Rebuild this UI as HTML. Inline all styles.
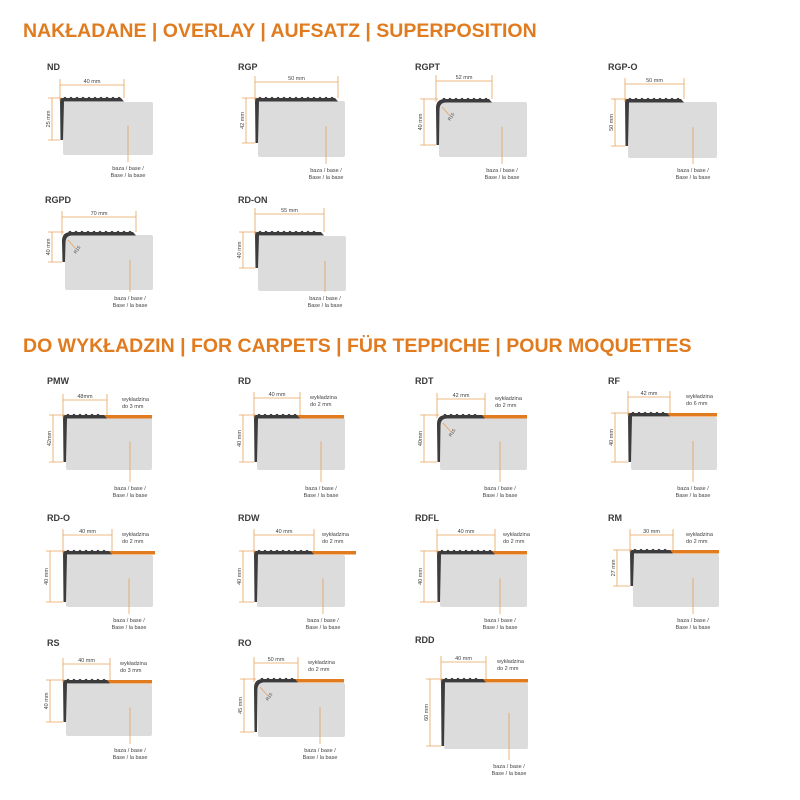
<!DOCTYPE html>
<html><head><meta charset="utf-8"><style>
html,body{margin:0;padding:0;background:#fff;}
svg{display:block;}
text{font-family:"Liberation Sans",sans-serif;}
</style></head><body>
<svg id="s" width="800" height="800" viewBox="0 0 800 800" xmlns="http://www.w3.org/2000/svg">
<rect width="800" height="800" fill="#fff"/>
<text x="23" y="37" font-size="19.5" font-weight="bold" fill="#e07b1f">NAKŁADANE | OVERLAY | AUFSATZ | SUPERPOSITION</text>
<text x="23" y="352" font-size="19.5" font-weight="bold" fill="#e07b1f">DO WYKŁADZIN | FOR CARPETS | FÜR TEPPICHE | POUR MOQUETTES</text>
</svg>
<script>
var D=[
// lab,lx,ly,px,top,end,leg,bx1,by1,bx2,by2,dimY,vx,ptr,ty,dim,vt,round,carpetEnd,ctx,ctext
["ND",47,70,60,98,124,140,63,102,153,155,85,52,128,170,"40 mm","25 mm",0],
["RGP",238,70,255,98,338,143,258,101,345,157,82,246,326,172,"50 mm","42 mm",0],
["RGPT",415,70,436,99,492,145,439,102,527,157,81,424,502,172,"52 mm","40 mm",1],
["RGP-O",608,70,625,99,684,146,628,102,717,158,84,615,693,172,"50 mm","50 mm",0],
["RGPD",45,203,62,232,136,262,65,235,153,290,217,52,130,300,"70 mm","40 mm",1],
["RD-ON",238,203,255,232,324,268,258,236,346,291,214,243,325,300,"55 mm","40 mm",0],
["PMW",47,384,63,415,107,462,66,418,152,470,400,53,130,490,"48mm","42mm",0,152,122,"do 3 mm"],
["RD",238,384,254,415,300,462,257,418,345,470,398,243,321,490,"40 mm","40 mm",0,344,310,"do 2 mm"],
["RDT",415,384,437,415,485,462,440,418,527,470,399,424,500,490,"42 mm","40mm",1,527,495,"do 2 mm"],
["RF",608,384,628,413,670,462,631,417,717,470,397,615,693,490,"42 mm","40 mm",0,717,686,"do 6 mm"],
["RD-O",47,521,63,551,112,602,66,555,153,607,535,50,129,622,"40 mm","40 mm",0,155,122,"do 2 mm"],
["RDW",238,521,254,551,314,602,257,555,345,607,535,243,323,622,"40 mm","40 mm",0,356,322,"do 2 mm"],
["RDFL",415,521,437,551,495,602,440,555,527,607,535,424,500,622,"40 mm","40 mm",0,527,503,"do 2 mm"],
["RM",608,521,630,550,673,586,633,554,719,607,535,617,693,622,"30 mm","27 mm",0,719,686,"do 2 mm"],
["RS",47,646,63,680,110,722,66,684,152,736,664,50,130,752,"40 mm","40 mm",0,152,120,"do 3 mm"],
["RO",238,646,254,679,298,732,258,683,345,737,663,244,320,752,"50 mm","45 mm",1,344,308,"do 2 mm"],
["RDD",415,643,441,679,486,746,444,683,528,749,662,430,509,768,"40 mm","60 mm",0,528,497,"do 2 mm"]
];
var o="",C="#e8a25a",P="#3c3c3e";
D.forEach(function(d){
var [lab,lx,ly,px,top,end,leg,bx1,by1,bx2,by2,dimY,vx,ptr,ty,dim,vt,rd,ce,ctx,ctext]=d;
o+='<text x="'+lx+'" y="'+ly+'" font-size="9" font-weight="bold" fill="#3a3a3a">'+lab+'</text>';
o+='<rect x="'+bx1+'" y="'+by1+'" width="'+(bx2-bx1)+'" height="'+(by2-by1)+'" rx="2" fill="#dcdcdc"/>';
if(ce){o+='<rect x="'+(end-4)+'" y="'+top+'" width="'+(ce-end+4)+'" height="3.5" fill="#e07b1f"/>';
o+='<text x="'+ctx+'" y="'+(dimY+1)+'" font-size="5.5" fill="#444">wykładzina</text><text x="'+ctx+'" y="'+(dimY+8)+'" font-size="5.5" fill="#444">'+ctext+'</text>';}
var r=rd?9:1.5;
o+='<path d="M'+(px+0.5)+' '+leg+' L'+px+' '+(top+r)+' Q'+px+' '+top+' '+(px+r)+' '+top+' L'+(end-3)+' '+top+' L'+end+' '+(top+3.5)+' L'+(px+4+(rd?6:0))+' '+(top+3.5)+(rd?' Q'+(px+3.5)+' '+(top+3.5)+' '+(px+3.5)+' '+(top+r+2):'')+' L'+(px+3)+' '+leg+' Z" fill="'+P+'"/>';
for(var x=px+(rd?8:5);x<end-4;x+=6)o+='<circle cx="'+x+'" cy="'+(top+0.3)+'" r="1.4" fill="'+P+'"/>';
// dims
o+='<g stroke="'+C+'" stroke-width="0.8" fill="none"><path d="M'+px+' '+(dimY-6)+'V'+(top+3)+'M'+end+' '+(dimY-6)+'V'+top+'M'+px+' '+dimY+'H'+end+'M'+(vx-4)+' '+top+'H'+(px+2)+'M'+(vx-4)+' '+leg+'H'+px+'M'+vx+' '+top+'V'+leg+'M'+ptr+' '+(by1+(by2-by1)*0.45)+'V'+(ty-8)+'"/></g>';
if(rd)o+='<path d="M'+(px+6)+' '+(top+8)+'L'+(px+14)+' '+(top+17)+'" stroke="'+C+'" stroke-width="0.8"/><text transform="translate('+(px+14)+','+(top+22)+') rotate(-55)" font-size="4.5" fill="#444">R15</text>';
o+='<text x="'+((px+end)/2)+'" y="'+(dimY-2)+'" font-size="5.5" fill="#444" text-anchor="middle">'+dim+'</text>';
o+='<text transform="translate('+(vx-2)+','+((top+leg)/2)+') rotate(-90)" font-size="5.5" fill="#444" text-anchor="middle">'+vt+'</text>';
o+='<text x="'+ptr+'" y="'+ty+'" font-size="5.5" fill="#444" text-anchor="middle">baza / base /</text><text x="'+ptr+'" y="'+(ty+7)+'" font-size="5.5" fill="#444" text-anchor="middle">Base / la base</text>';
});
document.getElementById('s').insertAdjacentHTML('beforeend',o);
</script>
</body></html>
